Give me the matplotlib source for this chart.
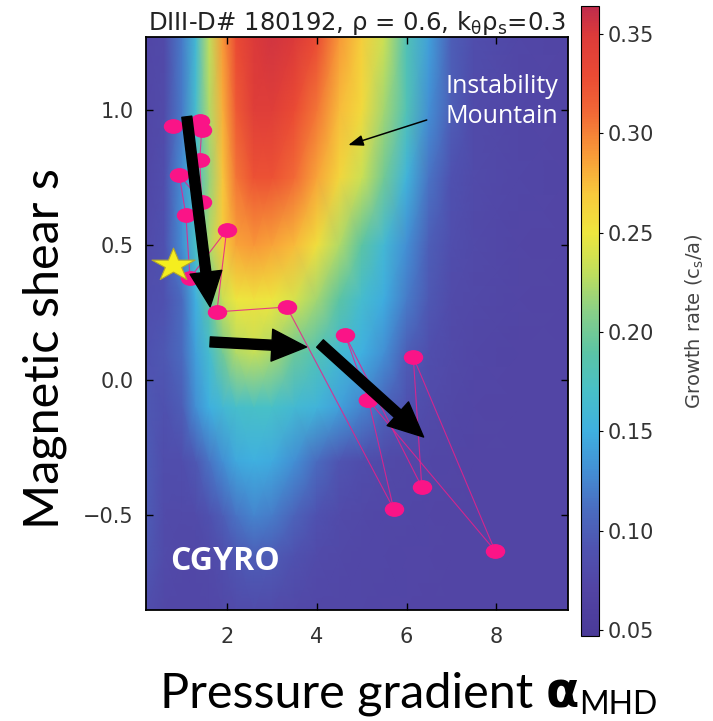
import numpy as np
import matplotlib
matplotlib.use("Agg")
import matplotlib.pyplot as plt
from matplotlib.colors import LinearSegmentedColormap
from matplotlib.path import Path

# grid of the CGYRO scan (alpha_MHD across, shear up)
alpha_grid = [0.19, 0.6, 1.0, 1.3, 1.6, 1.9, 2.2, 2.6, 3.0, 3.5, 4.0, 4.5, 5.0, 5.5, 6.0, 6.5, 7.0, 7.5, 8.5, 9.6]
shear_grid = [-0.85, -0.65, -0.5, -0.3, -0.1, 0.1, 0.3, 0.5, 0.75, 1.0, 1.27]

# growth rate (c_s/a), one row per shear value, bottom to top
gamma_s_m085 = [0.085, 0.076, 0.075, 0.075, 0.075, 0.077, 0.080, 0.082, 0.080, 0.077, 0.075, 0.075, 0.075, 0.074, 0.074, 0.073, 0.073, 0.073, 0.072, 0.072]
gamma_s_m065 = [0.095, 0.080, 0.076, 0.076, 0.078, 0.085, 0.093, 0.100, 0.097, 0.088, 0.080, 0.077, 0.075, 0.075, 0.074, 0.074, 0.073, 0.073, 0.072, 0.072]
gamma_s_m050 = [0.098, 0.080, 0.078, 0.080, 0.088, 0.100, 0.115, 0.125, 0.120, 0.103, 0.090, 0.080, 0.077, 0.075, 0.075, 0.074, 0.073, 0.073, 0.072, 0.072]
gamma_s_m030 = [0.098, 0.083, 0.085, 0.095, 0.115, 0.130, 0.145, 0.150, 0.147, 0.130, 0.110, 0.092, 0.083, 0.078, 0.076, 0.075, 0.074, 0.073, 0.072, 0.072]
gamma_s_m010 = [0.095, 0.088, 0.100, 0.130, 0.150, 0.160, 0.168, 0.172, 0.170, 0.162, 0.155, 0.140, 0.125, 0.105, 0.090, 0.080, 0.076, 0.074, 0.073, 0.072]
gamma_s_p010 = [0.090, 0.095, 0.110, 0.140, 0.165, 0.200, 0.225, 0.232, 0.222, 0.198, 0.180, 0.162, 0.150, 0.130, 0.100, 0.085, 0.078, 0.075, 0.073, 0.072]
gamma_s_p030 = [0.085, 0.090, 0.110, 0.150, 0.190, 0.235, 0.250, 0.252, 0.250, 0.240, 0.220, 0.190, 0.165, 0.148, 0.120, 0.095, 0.080, 0.077, 0.074, 0.072]
gamma_s_p050 = [0.080, 0.090, 0.130, 0.170, 0.225, 0.265, 0.285, 0.290, 0.285, 0.275, 0.255, 0.225, 0.190, 0.160, 0.130, 0.100, 0.085, 0.078, 0.074, 0.072]
gamma_s_p075 = [0.075, 0.085, 0.130, 0.165, 0.215, 0.270, 0.305, 0.325, 0.325, 0.310, 0.285, 0.260, 0.235, 0.200, 0.155, 0.115, 0.090, 0.080, 0.075, 0.072]
gamma_s_p100 = [0.075, 0.080, 0.120, 0.165, 0.225, 0.280, 0.320, 0.345, 0.345, 0.330, 0.305, 0.275, 0.258, 0.220, 0.180, 0.130, 0.100, 0.080, 0.075, 0.072]
gamma_s_p127 = [0.075, 0.078, 0.120, 0.160, 0.230, 0.290, 0.330, 0.350, 0.355, 0.350, 0.330, 0.290, 0.265, 0.235, 0.180, 0.140, 0.100, 0.085, 0.075, 0.072]

# experimental trajectory (magenta points), in drawing order
traj_alpha = [0.80, 1.39, 1.43, 1.39, 1.43, 0.93, 1.08, 1.17, 1.99, 1.77, 3.33, 5.71, 5.15, 4.63, 6.34, 6.15, 7.97, 5.15]
traj_shear = [0.94, 0.96, 0.925, 0.815, 0.66, 0.76, 0.61, 0.378, 0.556, 0.253, 0.271, -0.475, -0.074, 0.167, -0.395, 0.086, -0.63, -0.074]

star_alpha, star_shear = 0.80, 0.426

# big arrows: (tail alpha, tail s, tip alpha, tip s)
arrows = [(1.10, 0.975, 1.62, 0.272),
          (1.62, 0.142, 3.77, 0.123),
          (4.07, 0.136, 6.38, -0.21)]

cbar_ticks = [0.05, 0.10, 0.15, 0.20, 0.25, 0.30, 0.35]
cmap_vals = [0.047, 0.07, 0.09, 0.11, 0.13, 0.15, 0.17, 0.19, 0.21, 0.23, 0.25, 0.27, 0.29, 0.31, 0.33, 0.35, 0.364]
cmap_cols = ['#4a3a98', '#5244a4', '#4f52b0', '#4a6cc0', '#438fd4', '#3fb0e0', '#48c0c8', '#5cc4a4',
             '#88cf88', '#c0de5c', '#eee63e', '#f8c83c', '#f89a38', '#f26a36', '#ea4a34', '#dc3a3a', '#c02c4c']

vmin, vmax = cmap_vals[0], cmap_vals[-1]
cmap = LinearSegmentedColormap.from_list(
    'growth', [((v - vmin) / (vmax - vmin), c) for v, c in zip(cmap_vals, cmap_cols)])

gamma = np.array([gamma_s_m085, gamma_s_m065, gamma_s_m050, gamma_s_m030, gamma_s_m010,
                  gamma_s_p010, gamma_s_p030, gamma_s_p050, gamma_s_p075, gamma_s_p100, gamma_s_p127])

W, H = 713, 721
fig = plt.figure(figsize=(W / 100, H / 100), dpi=100)
ax = fig.add_axes([146 / W, 1 - 610 / H, 422 / W, 573 / H])

A, S = np.meshgrid(alpha_grid, shear_grid)
mesh = ax.pcolormesh(A, S, gamma, shading='gouraud', cmap=cmap, vmin=vmin, vmax=vmax, rasterized=True)

# trajectory
ell = Path.unit_circle()
ell = Path(ell.vertices * [1.35, 1.0], ell.codes)
ax.plot(traj_alpha, traj_shear, '-', color='#e8208c', lw=0.8, alpha=0.85, zorder=3)
ax.plot(traj_alpha, traj_shear, ls='none', marker=ell, ms=13, color='#fa1487',
        mec='#fa1487', zorder=4)

star = Path.unit_regular_star(5, 0.38)
star = Path(star.vertices * [1.3, 1.0], star.codes)
ax.plot([star_alpha], [star_shear], ls='none', marker=star, ms=31, color='#f5ee1e',
        mec='#b5a82a', mew=0.8, zorder=5)

for a0, s0, a1, s1 in arrows:
    ax.annotate('', xy=(a1, s1), xytext=(a0, s0),
                arrowprops=dict(arrowstyle='simple,head_length=1.25,head_width=1.15,tail_width=0.36',
                                mutation_scale=20, color='k', shrinkA=0, shrinkB=0), zorder=6)

ax.annotate('', xy=(4.70, 0.87), xytext=(6.45, 0.963),
            arrowprops=dict(arrowstyle='-|>,head_length=0.6,head_width=0.22', mutation_scale=15,
                            color='k', lw=1.1, shrinkA=0, shrinkB=0), zorder=6)
ax.text(8.12, 1.03, 'Instability\nMountain', color='white', fontsize=18, family='Open Sans',
        ha='center', va='center', linespacing=1.25, zorder=6)
ax.text(1.95, -0.67, 'CGYRO', color='white', fontsize=23, family='Open Sans', weight='bold',
        ha='center', va='center', zorder=6)

ax.set_xlim(0.19, 9.6)
ax.set_ylim(-0.85, 1.27)
ax.set_xticks([2, 4, 6, 8])
ax.set_yticks([-0.5, 0.0, 0.5, 1.0])
ax.set_xticklabels(['2', '4', '6', '8'])
ax.set_yticklabels(['\u22120.5', '0.0', '0.5', '1.0'])
ax.tick_params(direction='in', length=5, width=1, top=True, right=True,
               labelsize=15, labelcolor='#333333')
ax.tick_params(axis='x', pad=12)
ax.tick_params(axis='y', pad=9)
for sp in ax.spines.values():
    sp.set_linewidth(1.3)

plt.rcParams['mathtext.fontset'] = 'custom'
plt.rcParams['mathtext.rm'] = 'DejaVu Sans'
plt.rcParams['mathtext.default'] = 'regular'
ax.set_title(r'DIII-D# 180192, ρ = 0.6, k$_\theta$ρ$_s$=0.3', fontsize=17.5, color='#222222', pad=5)

# colorbar
cax = fig.add_axes([581 / W, 1 - 636 / H, 18 / W, 630 / H])
cb = fig.colorbar(mesh, cax=cax, ticks=cbar_ticks)
cb.ax.set_yticklabels(['%.2f' % t for t in cbar_ticks])
cb.ax.tick_params(labelsize=15, labelcolor='#333333', length=3, width=0.8)
cb.outline.set_linewidth(0.8)
cax.text(6.3, 0.5, 'Growth rate (c$_s$/a)', rotation=90, transform=cax.transAxes,
         ha='center', va='center', fontsize=14, color='#444444')

# big axis labels
fig.text(45 / W, 1 - 349 / H, 'Magnetic shear s', rotation=90, ha='center', va='center',
         fontsize=35, family='Lato')
fig.canvas.draw()
rend = fig.canvas.get_renderer()
t1 = fig.text(160 / W, 14 / H, 'Pressure gradient ', fontsize=35, family='Lato', va='baseline')
bb = t1.get_window_extent(rend)
t2 = fig.text(bb.x1 / W, 14 / H, 'α', fontsize=35, weight='bold', family='DejaVu Sans', va='baseline')
bb2 = t2.get_window_extent(rend)
fig.text(bb2.x1 / W, 7 / H, 'MHD', fontsize=23, family='Lato', va='baseline')

fig.savefig('out.png', dpi=100)
